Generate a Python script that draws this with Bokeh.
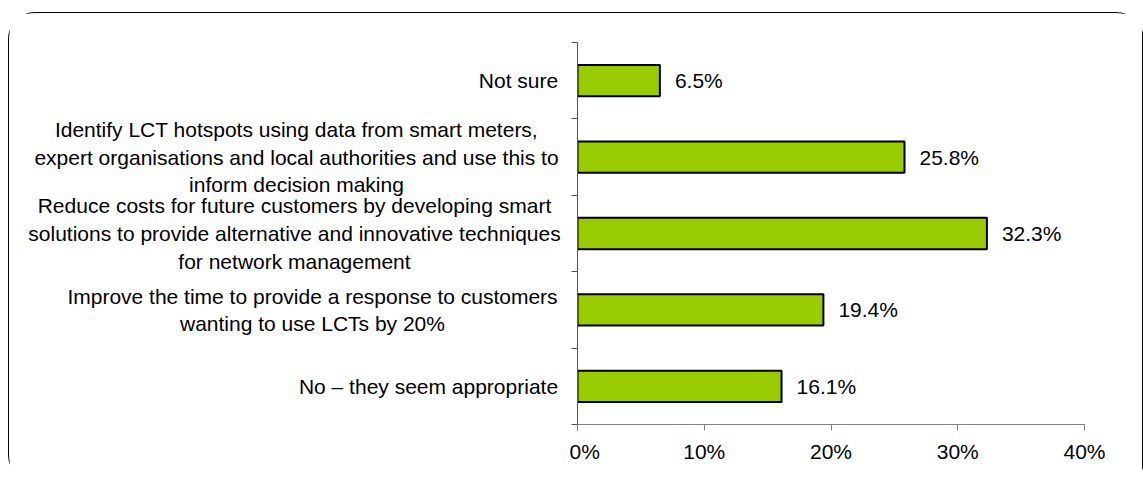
from bokeh.plotting import figure
from bokeh.layouts import row
from bokeh.models import ColumnDataSource, LabelSet, Range1d, FixedTicker, PrintfTickFormatter
from bokeh.core.properties import value
from bokeh.embed import file_html
from bokeh.resources import INLINE

# ---- data (top to bottom as in the chart) ----
categories = [
    "Not sure",
    "Identify LCT hotspots using data from smart meters,\nexpert organisations and local authorities and use this to\ninform decision making",
    "Reduce costs for future customers by developing smart\nsolutions to provide alternative and innovative techniques\nfor network management",
    "Improve the time to provide a response to customers\nwanting to use LCTs by 20%",
    "No \u2013 they seem appropriate",
]
values = [6.5, 25.8, 32.3, 19.4, 16.1]
x_ticks = [0, 10, 20, 30, 40]

# ---- layout / style ----
FONT = "Liberation Sans"
FS = "21px"
LABEL_W = 560
label_centers = [509, 287, 285, 303, 419]  # x (px) of centred category text blocks

n = len(categories)
ypos = [n - i - 0.5 for i in range(n)]

src = ColumnDataSource(dict(
    y=ypos,
    v=values,
    cat=categories,
    vtxt=[f"{v:.1f}%" for v in values],
    cx=label_centers,
))

yr = Range1d(0, n)

# ---- main bar figure ----
p = figure(width=1133 - LABEL_W, height=468, output_backend="svg", toolbar_location=None,
           x_range=Range1d(0, 40), y_range=yr,
           min_border_left=8, min_border_right=58, min_border_top=29, min_border_bottom=57)
p.outline_line_color = None
p.xgrid.visible = False
p.ygrid.visible = False

p.hbar(y="y", right="v", left=0, height=0.41, source=src,
       fill_color="#99CC00", line_color="black", line_width=2)

# x axis
p.xaxis.ticker = FixedTicker(ticks=x_ticks)
p.xaxis.formatter = PrintfTickFormatter(format="%d%%")
p.xaxis.axis_line_color = "#808080"
p.xaxis.major_tick_line_color = "#808080"
p.xaxis.major_tick_out = 6
p.xaxis.major_tick_in = 0
p.xaxis.minor_tick_line_color = None
p.xaxis.major_label_text_font = FONT
p.xaxis.major_label_text_font_size = FS
p.xaxis.major_label_text_color = "black"
p.xaxis.major_label_standoff = 9

# y axis: ticks at category boundaries, labels drawn in the side figure
p.yaxis.ticker = FixedTicker(ticks=list(range(n + 1)))
p.yaxis.major_label_overrides = {i: "" for i in range(n + 1)}
p.yaxis.axis_line_color = "#555555"
p.yaxis.major_tick_line_color = "#555555"
p.yaxis.major_tick_out = 6
p.yaxis.major_tick_in = 0
p.yaxis.minor_tick_line_color = None
p.yaxis.major_label_standoff = 0

# value labels
p.add_layout(LabelSet(x="v", y="y", text="vtxt", source=src, x_offset=15,
                      text_baseline="middle", text_align="left",
                      text_font=value(FONT), text_font_size=value(FS),
                      text_color="black"))

# ---- category label figure (shares the y range) ----
q = figure(width=LABEL_W, height=468, output_backend="svg", toolbar_location=None,
           x_range=Range1d(0, LABEL_W), y_range=yr,
           min_border_left=0, min_border_right=0, min_border_top=29, min_border_bottom=57)
q.axis.visible = False
q.xgrid.visible = False
q.ygrid.visible = False
q.outline_line_color = None
q.text(x="cx", y="y", text="cat", source=src,
       text_align="center", text_baseline="middle",
       text_font=value(FONT), text_font_size=value(FS),
       text_color="black", text_line_height=1.2)

layout = row(q, p)
layout.styles = {"margin": "13px 0 0 9px", "border-radius": "26px",
                 "box-shadow": "0 0 0 1px #000, 3px 3px 1px #000"}

open("out.html", "w").write(file_html(layout, INLINE))
